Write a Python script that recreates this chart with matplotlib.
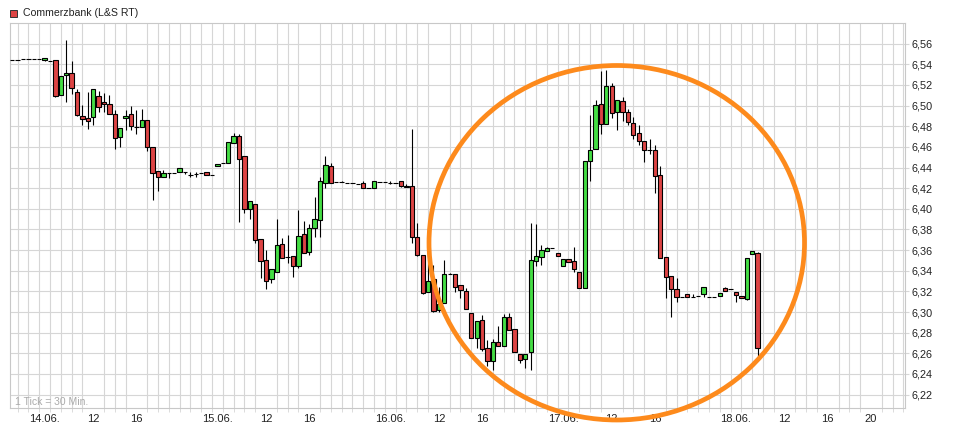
import matplotlib
matplotlib.use("Agg")
import matplotlib.pyplot as plt
from matplotlib.patches import Ellipse, Rectangle
from matplotlib.ticker import FuncFormatter
import numpy as np

plt.rcParams['font.family'] = ['Liberation Sans', 'DejaVu Sans']

# Commerzbank (L&S RT), 30 minute candles, slot 0 = 14.06. 07:00 (32 slots per day)
slot = list(range(-5, 134))

open_ = [
    6.544, 6.544, 6.545, 6.5455, 6.5455, 6.5455, 6.544, 6.5435, 6.544, 6.510,
    6.530, 6.532, 6.513, 6.490, 6.4875, 6.489, 6.5095, 6.503, 6.5017, 6.492,
    6.4695, 6.488, 6.4914, 6.479, 6.479, 6.4856, 6.460, 6.437, 6.431, 6.435,
    6.435, 6.4354, 6.436, 6.4332, 6.434, 6.435, 6.436, 6.433, 6.441, 6.444,
    6.444, 6.464, 6.4705, 6.451, 6.400, 6.405, 6.371, 6.350, 6.332, 6.339,
    6.3656, 6.3536, 6.354, 6.345, 6.376, 6.3584, 6.381, 6.389, 6.4254, 6.4415,
    6.4257, 6.4263, 6.4254, 6.425, 6.4244, 6.4254, 6.4206, 6.4206, 6.426, 6.426,
    6.4254, 6.4254, 6.4267, 6.4209, 6.4218, 6.3723, 6.3552, 6.3192, 6.3317, 6.302,
    6.3085, 6.3366, 6.3369, 6.3262, 6.3205, 6.2991, 6.2749, 6.2921, 6.2647, 6.2522,
    6.2711, 6.2673, 6.295, 6.2834, 6.2593, 6.2544, 6.2612, 6.3497, 6.3536, 6.3594,
    6.362, 6.3575, 6.3446, 6.3516, 6.3491, 6.3388, 6.323, 6.446, 6.4583, 6.5017,
    6.4824, 6.5194, 6.4936, 6.5049, 6.4936, 6.4834, 6.4737, 6.4656, 6.4566, 6.4573,
    6.4332, 6.3536, 6.3346, 6.3221, 6.3146, 6.3172, 6.3143, 6.3159, 6.3178, 6.3146,
    6.315, 6.3156, 6.323, 6.3221, 6.3191, 6.3156, 6.313, 6.3559, 6.3575,
]
high = [
    6.544, 6.544, 6.545, 6.5455, 6.5455, 6.5455, 6.546, 6.5435, 6.544, 6.529,
    6.564, 6.543, 6.516, 6.501, 6.513, 6.516, 6.5146, 6.5117, 6.5104, 6.496,
    6.478, 6.4953, 6.4992, 6.496, 6.497, 6.4856, 6.460, 6.437, 6.4374, 6.435,
    6.435, 6.440, 6.436, 6.4357, 6.436, 6.435, 6.436, 6.433, 6.4434, 6.444,
    6.465, 6.473, 6.472, 6.451, 6.4075, 6.405, 6.371, 6.360, 6.342, 6.390,
    6.372, 6.3745, 6.354, 6.399, 6.388, 6.385, 6.4116, 6.431, 6.4508, 6.444,
    6.4257, 6.427, 6.4254, 6.425, 6.4244, 6.427, 6.4206, 6.4267, 6.426, 6.426,
    6.427, 6.4254, 6.4267, 6.4245, 6.4769, 6.3858, 6.3552, 6.3471, 6.3455, 6.324,
    6.3504, 6.338, 6.3369, 6.3262, 6.323, 6.2991, 6.2911, 6.297, 6.2731, 6.274,
    6.2869, 6.298, 6.2995, 6.2834, 6.2593, 6.2593, 6.3858, 6.3851, 6.365, 6.3627,
    6.362, 6.3575, 6.3513, 6.3516, 6.3626, 6.3388, 6.446, 6.4904, 6.5056, 6.5339,
    6.5349, 6.522, 6.5056, 6.508, 6.4965, 6.489, 6.4808, 6.4656, 6.4673, 6.4621,
    6.4412, 6.3536, 6.3346, 6.3327, 6.3146, 6.3172, 6.317, 6.3159, 6.3246, 6.3146,
    6.315, 6.3188, 6.3245, 6.3221, 6.3191, 6.3156, 6.352, 6.359, 6.358,
]
low = [
    6.544, 6.544, 6.545, 6.5455, 6.5455, 6.5455, 6.543, 6.5435, 6.508, 6.510,
    6.503, 6.511, 6.4895, 6.481, 6.477, 6.4815, 6.4936, 6.4936, 6.492, 6.458,
    6.460, 6.476, 6.476, 6.4728, 6.479, 6.456, 6.409, 6.417, 6.431, 6.430,
    6.435, 6.4354, 6.434, 6.4308, 6.431, 6.435, 6.433, 6.433, 6.441, 6.444,
    6.444, 6.464, 6.387, 6.3955, 6.390, 6.367, 6.333, 6.322, 6.328, 6.339,
    6.352, 6.3472, 6.334, 6.343, 6.3574, 6.355, 6.3729, 6.3723, 6.420, 6.4254,
    6.4257, 6.4263, 6.4254, 6.425, 6.4244, 6.4206, 6.4206, 6.4206, 6.426, 6.426,
    6.424, 6.4254, 6.4209, 6.4209, 6.3665, 6.354, 6.317, 6.3192, 6.300, 6.300,
    6.3085, 6.3366, 6.3198, 6.3134, 6.3027, 6.2749, 6.2647, 6.262, 6.2473, 6.2434,
    6.2667, 6.2673, 6.2821, 6.2612, 6.2506, 6.2458, 6.2434, 6.345, 6.3455, 6.3594,
    6.362, 6.3543, 6.3446, 6.3484, 6.3385, 6.3236, 6.323, 6.427, 6.4583, 6.4728,
    6.4824, 6.4882, 6.476, 6.4855, 6.4808, 6.4673, 6.462, 6.4453, 6.4535, 6.4154,
    6.352, 6.3134, 6.2956, 6.310, 6.3146, 6.3146, 6.3143, 6.3159, 6.3146, 6.3146,
    6.315, 6.3156, 6.3204, 6.3221, 6.3101, 6.3134, 6.3115, 6.3559, 6.254,
]
close = [
    6.544, 6.544, 6.545, 6.5455, 6.5455, 6.5455, 6.546, 6.5435, 6.509, 6.529,
    6.532, 6.517, 6.491, 6.487, 6.485, 6.516, 6.499, 6.502, 6.492, 6.469,
    6.478, 6.490, 6.480, 6.479, 6.486, 6.460, 6.435, 6.431, 6.4347, 6.435,
    6.435, 6.440, 6.436, 6.4332, 6.434, 6.435, 6.433, 6.433, 6.4434, 6.444,
    6.465, 6.471, 6.448, 6.400, 6.4075, 6.370, 6.349, 6.330, 6.342, 6.365,
    6.352, 6.3536, 6.345, 6.374, 6.3574, 6.381, 6.3897, 6.427, 6.442, 6.4254,
    6.4257, 6.4263, 6.4254, 6.425, 6.4244, 6.4206, 6.4206, 6.4267, 6.426, 6.426,
    6.4254, 6.4254, 6.4218, 6.4225, 6.3723, 6.355, 6.3182, 6.3304, 6.3005, 6.308,
    6.3365, 6.3366, 6.3246, 6.3214, 6.3027, 6.2749, 6.2911, 6.2641, 6.2525, 6.2712,
    6.2667, 6.295, 6.2821, 6.2612, 6.2537, 6.2593, 6.3504, 6.3543, 6.360, 6.3617,
    6.362, 6.3543, 6.3513, 6.3484, 6.3414, 6.3236, 6.446, 6.4573, 6.5008, 6.4824,
    6.5185, 6.4930, 6.5056, 6.4936, 6.484, 6.4711, 6.4656, 6.4573, 6.4566, 6.4322,
    6.352, 6.3337, 6.3221, 6.3143, 6.3146, 6.3146, 6.3143, 6.3159, 6.3246, 6.3146,
    6.315, 6.3188, 6.3204, 6.3221, 6.3163, 6.3134, 6.352, 6.359, 6.2651,
]

# x axis labels (slot positions) and y ticks
tick_slots = [1, 10, 18, 33, 42, 50, 65, 74, 82, 97, 106, 114, 129, 138, 146, 154]
tick_labels = ['14.06.', '12', '16', '15.06.', '12', '16', '16.06.', '12', '16',
               '17.06.', '12', '16', '18.06.', '12', '16', '20']
price_ticks = np.arange(6.22, 6.5601, 0.02)

x = np.array(slot)
o = np.array(open_)
c = np.array(close)
h = np.maximum(np.array(high), np.maximum(o, c))
l = np.minimum(np.array(low), np.minimum(o, c))
up = c > o
colors = np.where(up, '#44dd44', '#dd4444')

fig = plt.figure(figsize=(9.56, 4.25), dpi=100)
ax = fig.add_axes([10 / 956, 17 / 425, 895 / 956, 385 / 425])

# Wicks and bodies
ax.vlines(x, l, h, color='black', linewidth=0.8, zorder=2)
ax.bar(x, np.abs(c - o), bottom=np.minimum(o, c), width=0.8,
       color=colors, edgecolor='black', linewidth=0.8, zorder=3)

ax.set_xlim(-5.4, 160.3)
ax.set_ylim(6.207, 6.579)

# Grid (the 6,58 line has no label)
grid_col = '#d6d6d6'
ax.set_yticks(price_ticks)
ax.set_yticks([6.58], minor=True)
ax.yaxis.set_major_formatter(FuncFormatter(lambda v, p: f"{v:.2f}".replace('.', ',')))
ax.set_xticks(tick_slots)
ax.set_xticklabels(tick_labels)
ax.set_xticks(np.arange(-4, 161, 2), minor=True)
ax.grid(True, which='minor', axis='x', color=grid_col, linewidth=0.8, zorder=0)
ax.grid(True, which='major', axis='y', color=grid_col, linewidth=0.8, zorder=0)
ax.set_axisbelow(True)

for s in ax.spines.values():
    s.set_color('#c8c8c8')
    s.set_linewidth(0.8)

ax.yaxis.tick_right()
ax.tick_params(axis='y', which='major', length=3, color=grid_col, pad=2,
               labelsize=7.8, labelcolor='#222222')
ax.tick_params(axis='y', which='minor', length=0)
ax.tick_params(axis='x', which='major', length=0, pad=4, labelsize=8, labelcolor='#222222')
ax.tick_params(axis='x', which='minor', length=3, color=grid_col)

# Legend at top left
fig.patches.append(Rectangle((10 / 956, 1 - 17 / 425), 7 / 956, 7 / 425,
                             transform=fig.transFigure, facecolor='#dd4444',
                             edgecolor='#333333', linewidth=0.7))
fig.text(23 / 956, 1 - 13 / 425, 'Commerzbank (L&S RT)', fontsize=7.6,
         color='#222222', va='center', ha='left')

fig.text(15 / 956, 1 - 402 / 425, '1 Tick = 30 Min.', fontsize=7.5,
         color='#aaaaaa', va='center', ha='left')

# Orange highlight ring
ring = Ellipse((616.75 / 956, 1 - 242.75 / 425), 375.5 / 956, 354.5 / 425,
               transform=fig.transFigure, fill=False, edgecolor='#fd8a1c',
               linewidth=3.4, zorder=10)
fig.patches.append(ring)

fig.savefig('out.png', dpi=100)
